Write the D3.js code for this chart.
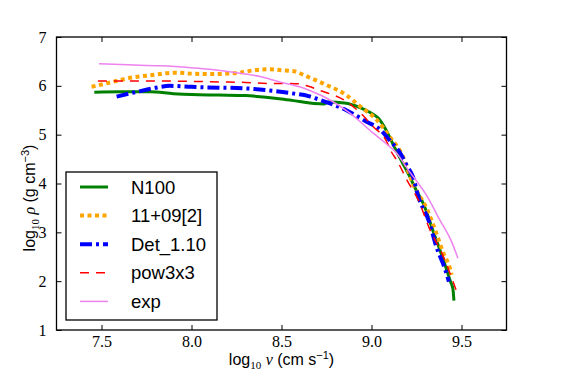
<!DOCTYPE html>
<html>
<head>
<meta charset="utf-8">
<script src="https://cdn.jsdelivr.net/npm/d3@7"></script>
<style>
    body { margin: 0; background: #fff; }
    svg { display: block; }
    .tick text { font-family: "Liberation Serif", serif; font-size: 16px; }
</style>
</head>
<body>
<div id="chart"></div>
<script>
// values: [log10 v, log10 rho]
var n100 = [[7.46,5.87],[7.6,5.88],[7.77,5.88],[7.9,5.84],[8.0,5.82],[8.15,5.81],[8.3,5.80],[8.4,5.77],[8.5,5.73],[8.6,5.68],[8.68,5.64],[8.735,5.63],[8.76,5.67],[8.85,5.65],[8.94,5.55],[9.0,5.44],[9.04,5.33],[9.08,5.10],[9.12,4.80],[9.15,4.58],[9.21,4.16],[9.25,3.85],[9.29,3.57],[9.34,3.05],[9.40,2.43],[9.44,1.98],[9.452,1.85],[9.458,1.60]];
var ref1109 = [[7.445,5.98],[7.55,6.07],[7.64,6.15],[7.78,6.22],[7.91,6.27],[8.0,6.25],[8.10,6.24],[8.2,6.25],[8.27,6.27],[8.35,6.32],[8.42,6.34],[8.5,6.32],[8.57,6.30],[8.63,6.21],[8.73,6.05],[8.86,5.81],[8.94,5.57],[9.03,5.30],[9.10,4.96],[9.168,4.60],[9.23,4.0],[9.31,3.46],[9.36,2.98],[9.40,2.57],[9.436,2.26],[9.445,2.13]];
var det110 = [[7.584,5.78],[7.70,5.88],[7.80,5.96],[7.88,6.00],[8.0,5.98],[8.07,5.97],[8.29,5.95],[8.47,5.89],[8.57,5.84],[8.65,5.79],[8.70,5.73],[8.77,5.64],[8.86,5.50],[8.97,5.27],[9.05,5.10],[9.10,4.89],[9.16,4.62],[9.20,4.34],[9.23,4.14],[9.26,3.73],[9.32,3.22],[9.36,2.71],[9.41,2.23],[9.43,1.99]];
var pow3x3 = [[7.48,6.10],[7.65,6.10],[7.825,6.10],[8.0,6.09],[8.16,6.08],[8.3,6.07],[8.42,6.05],[8.52,6.05],[8.60,6.04],[8.65,5.99],[8.71,5.91],[8.86,5.68],[8.94,5.44],[9.01,5.16],[9.08,4.89],[9.11,4.65],[9.14,4.48],[9.20,4.05],[9.26,3.66],[9.325,3.05],[9.40,2.50],[9.436,2.16],[9.47,1.82]];
var expo = [[7.486,6.45],[7.65,6.43],[7.825,6.41],[8.0,6.37],[8.10,6.34],[8.25,6.27],[8.38,6.19],[8.49,6.08],[8.60,5.98],[8.66,5.90],[8.77,5.71],[8.88,5.44],[9.01,5.03],[9.08,4.82],[9.14,4.62],[9.20,4.30],[9.31,3.73],[9.38,3.25],[9.44,2.85],[9.48,2.47]];

var seriesNames = ['N100', '11+09[2]', 'Det_1.10', 'pow3x3', 'exp'];
var seriesData = [n100, ref1109, det110, pow3x3, expo];
var xTicks = [7.5, 8.0, 8.5, 9.0, 9.5];
var yTicks = [1, 2, 3, 4, 5, 6, 7];

var styles = [
    {color: 'green',  width: 3,   dash: null},
    {color: 'orange', width: 4,   dash: '4,3.5'},
    {color: 'blue',   width: 4,   dash: '12,4,3,4'},
    {color: 'red',    width: 1.5, dash: '9,7'},
    {color: 'violet', width: 1.5, dash: null}
];

var width = 563, height = 375;
var margin = {top: 37, right: 56.5, bottom: 45, left: 56.5};

var svg = d3.select('#chart').append('svg')
    .attr('width', width)
    .attr('height', height);

var x = d3.scaleLinear()
    .domain([7.25, 9.75])
    .range([margin.left, width - margin.right]);
var y = d3.scaleLinear()
    .domain([1, 7])
    .range([height - margin.bottom, margin.top]);

var line = d3.line()
    .x(function(d) { return x(d[0]); })
    .y(function(d) { return y(d[1]); })
    .curve(d3.curveMonotoneX);

var plot = svg.append('g');
seriesData.forEach(function(data, i) {
    plot.append('path')
        .datum(data)
        .attr('fill', 'none')
        .attr('stroke', styles[i].color)
        .attr('stroke-width', styles[i].width)
        .attr('stroke-dasharray', styles[i].dash)
        .attr('d', line);
});

// axes, ticks inside on all sides
var fmt = d3.format('.1f');
svg.append('g')
    .attr('transform', 'translate(0 ' + y.range()[0] + ')')
    .call(d3.axisBottom(x).tickValues(xTicks).tickFormat(fmt).tickSizeInner(-5).tickSizeOuter(0).tickPadding(6));
svg.append('g')
    .attr('transform', 'translate(0 ' + y.range()[1] + ')')
    .call(d3.axisTop(x).tickValues(xTicks).tickFormat('').tickSizeInner(-5).tickSizeOuter(0));
svg.append('g')
    .attr('transform', 'translate(' + x.range()[0] + ' 0)')
    .call(d3.axisLeft(y).tickValues(yTicks).tickFormat(d3.format('d')).tickSizeInner(-5).tickSizeOuter(0).tickPadding(10));
svg.append('g')
    .attr('transform', 'translate(' + x.range()[1] + ' 0)')
    .call(d3.axisRight(y).tickValues(yTicks).tickFormat('').tickSizeInner(-5).tickSizeOuter(0));

svg.selectAll('.domain').remove();
svg.selectAll('.tick line').attr('stroke', '#000').attr('stroke-width', 1);
svg.selectAll('.tick text').attr('fill', '#000');

svg.append('rect')
    .attr('x', x.range()[0])
    .attr('y', y.range()[1])
    .attr('width', x.range()[1] - x.range()[0])
    .attr('height', y.range()[0] - y.range()[1])
    .attr('fill', 'none')
    .attr('stroke', '#000')
    .attr('stroke-width', 1.3);

// axis labels
var sans = '"Liberation Sans", Arial, sans-serif';
var serif = '"Liberation Serif", serif';

var xl = svg.append('text')
    .attr('x', (x.range()[0] + x.range()[1]) / 2)
    .attr('y', 365)
    .attr('text-anchor', 'middle')
    .style('font-family', sans)
    .style('font-size', '16px');
xl.append('tspan').text('log');
xl.append('tspan').attr('dy', 4).style('font-family', serif).style('font-size', '11px').text('10');
xl.append('tspan').attr('dy', -4).text(' ');
xl.append('tspan').style('font-family', serif).style('font-style', 'italic').text('v');
xl.append('tspan').text(' (cm s');
xl.append('tspan').attr('dy', -6).style('font-size', '11px').text('\u22121');
xl.append('tspan').attr('dy', 6).text(')');

var yl = svg.append('text')
    .attr('transform', 'translate(35 198) rotate(-90)')
    .attr('text-anchor', 'middle')
    .style('font-family', sans)
    .style('font-size', '16px');
yl.append('tspan').text('log');
yl.append('tspan').attr('dy', 4).style('font-family', serif).style('font-size', '11px').text('10');
yl.append('tspan').attr('dy', -4).text(' ');
yl.append('tspan').style('font-family', serif).style('font-style', 'italic').text('\u03c1');
yl.append('tspan').text(' (g cm');
yl.append('tspan').attr('dy', -6).style('font-size', '11px').text('\u22123');
yl.append('tspan').attr('dy', 6).text(')');

// legend
var legend = svg.append('g').attr('transform', 'translate(66 172)');
legend.append('rect')
    .attr('width', 151)
    .attr('height', 148)
    .attr('fill', '#fff')
    .attr('stroke', '#000')
    .attr('stroke-width', 1.3);

seriesNames.forEach(function(name, i) {
    var cy = 15 + i * 28.6;
    legend.append('line')
        .attr('x1', 14).attr('x2', 42)
        .attr('y1', cy).attr('y2', cy)
        .attr('stroke', styles[i].color)
        .attr('stroke-width', styles[i].width)
        .attr('stroke-dasharray', styles[i].dash);
    legend.append('text')
        .attr('x', 65)
        .attr('y', cy + 6.5)
        .style('font-family', sans)
        .style('font-size', '18.5px')
        .text(name);
});
</script>
</body>
</html>
